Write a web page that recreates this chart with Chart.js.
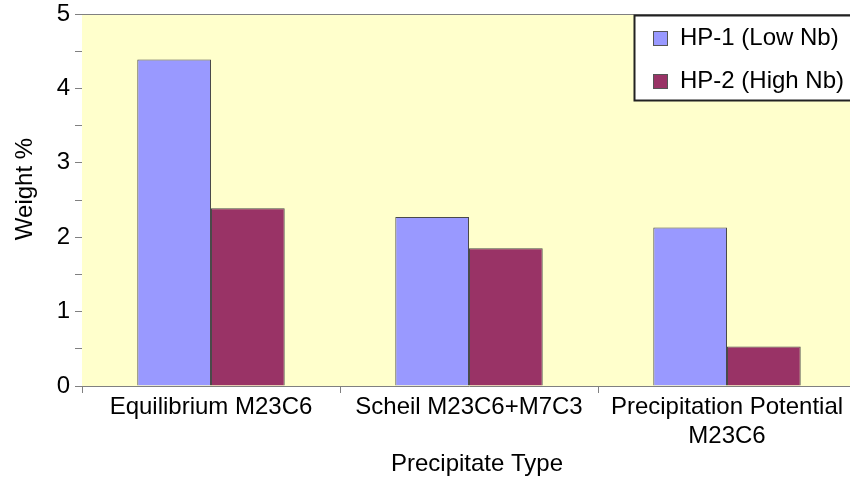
<!DOCTYPE html>
<html>
<head>
<meta charset="utf-8">
<script src="https://cdn.jsdelivr.net/npm/chart.js@4/dist/chart.umd.min.js"></script>
<style>
html,body{margin:0;padding:0;background:#fff;overflow:hidden;}
#wrap{width:850px;height:480px;overflow:hidden;}
</style>
</head>
<body>
<div id="wrap"><canvas id="chart" width="858" height="480"></canvas></div>
<script>
// precipitate weight fractions for the two alloys
const categories=['Equilibrium M23C6','Scheil M23C6+M7C3',['Precipitation Potential','M23C6']];
const seriesNames=['HP-1 (Low Nb)','HP-2 (High Nb)'];
const hp1LowNb=[4.39,2.27,2.13];
const hp2HighNb=[2.39,1.85,0.53];
const yTitle='Weight %';
const xTitle='Precipitate Type';

const FONT='"Liberation Sans", Arial, sans-serif';
const AXIS_GREY='#808080';

// yellow plot area, top frame line, axis titles and the boxed legend
const decor={
  id:'decor',
  beforeDatasetsDraw(chart){
    const {ctx,chartArea:a}=chart;
    ctx.save();
    ctx.fillStyle='#FFFFCC';
    ctx.fillRect(a.left,a.top,a.right-a.left,a.bottom-a.top);
    ctx.strokeStyle=AXIS_GREY;ctx.lineWidth=1;
    ctx.beginPath();ctx.moveTo(a.left,a.top+0.5);ctx.lineTo(a.right,a.top+0.5);ctx.stroke();
    ctx.restore();
  },
  afterDraw(chart){
    const {ctx}=chart;
    ctx.save();
    ctx.fillStyle='#000';
    ctx.font='24px '+FONT;
    ctx.textAlign='center';ctx.textBaseline='middle';
    ctx.save();ctx.translate(25,189);ctx.rotate(-Math.PI/2);ctx.fillText(yTitle,0,0);ctx.restore();
    ctx.fillText(xTitle,477,464);

    // legend, box runs on past the right edge
    const bx=634.5,by=15.5;
    ctx.fillStyle='#fff';
    ctx.fillRect(bx,by,260,85);
    ctx.strokeStyle='#222';ctx.lineWidth=2;
    ctx.strokeRect(bx,by,260,85);
    ctx.textAlign='left';
    chart.data.datasets.forEach((ds,i)=>{
      const cy=38.5+i*43;
      ctx.fillStyle=ds.backgroundColor;
      ctx.fillRect(653,cy-7.5,15,15);
      ctx.strokeStyle='#555';ctx.lineWidth=1;
      ctx.strokeRect(653.5,cy-7,14,14);
      ctx.fillStyle='#000';
      ctx.fillText(ds.label,680,cy);
    });
    ctx.restore();
  }
};

new Chart(document.getElementById('chart'),{
  type:'bar',
  data:{
    labels:categories,
    datasets:[
      {label:seriesNames[0],data:hp1LowNb,backgroundColor:'#9999FF',borderColor:'#4a4a4a',borderWidth:1},
      {label:seriesNames[1],data:hp2HighNb,backgroundColor:'#993366',borderColor:'#4a4a4a',borderWidth:1}
    ]
  },
  options:{
    responsive:false,
    maintainAspectRatio:false,
    animation:false,
    devicePixelRatio:1,
    layout:{padding:{top:14,left:0,right:2,bottom:0}},
    datasets:{bar:{categoryPercentage:2/3.5,barPercentage:1}},
    plugins:{legend:{display:false},tooltip:{enabled:false}},
    scales:{
      x:{
        grid:{offset:true,drawOnChartArea:false,color:AXIS_GREY,tickLength:7},
        border:{color:AXIS_GREY,width:1},
        ticks:{color:'#000',font:{family:FONT,size:24},padding:0,maxRotation:0,autoSkip:false},
        afterFit(s){s.height=94;s.paddingLeft=0;s.paddingRight=0;}
      },
      y:{
        min:0,max:5,
        grid:{drawOnChartArea:false,color:AXIS_GREY,tickLength:7},
        border:{color:AXIS_GREY,width:1},
        ticks:{stepSize:0.5,autoSkip:false,color:'#000',font:{family:FONT,size:24},padding:5,
          callback:v=>Number.isInteger(v)?String(v):''},
        afterFit(s){s.width=82;s.paddingTop=0;s.paddingBottom=0;}
      }
    }
  },
  plugins:[decor]
});
</script>
</body>
</html>
